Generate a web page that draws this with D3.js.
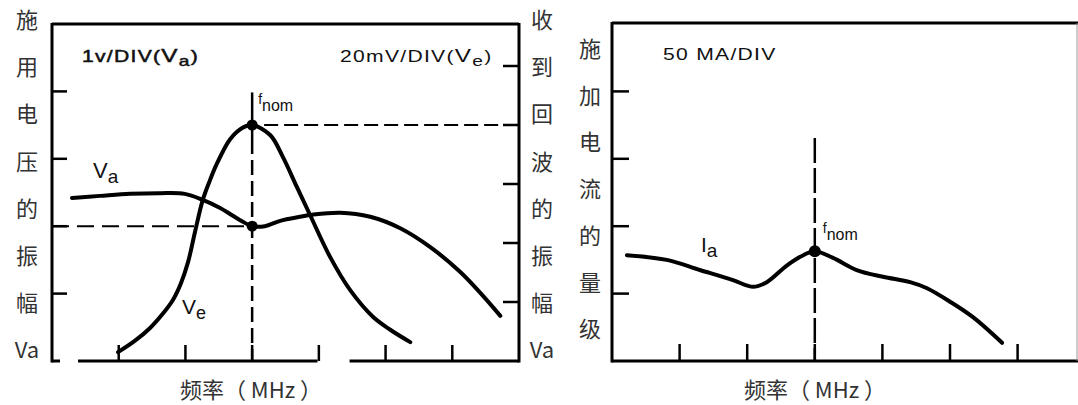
<!DOCTYPE html>
<html>
<head>
<meta charset="utf-8">
<script src="https://cdn.jsdelivr.net/npm/d3@7"></script>
<style>
  html, body { margin: 0; padding: 0; background: #fff; }
  svg { display: block; }
</style>
</head>
<body>
<svg id="chart" width="1078" height="405"></svg>
<script>
// ---- data (frequency in divisions, amplitude in divisions) ----
const freqTicks = [1, 2, 3, 4, 5, 6];
const fNom = 3;

const vaTicks = [1, 2, 3, 4];
const veTicks = [1, 2, 3, 4, 5];
const iaTicks = [1, 2, 3, 4];

const vaFreq = [0.30, 0.72, 1.17, 1.62, 1.99, 2.26, 2.52, 2.82, 3.00, 3.19, 3.42, 3.72, 3.90, 4.32, 4.77, 5.22, 5.67, 6.12, 6.42, 6.72];
const vaAmp  = [2.42, 2.45, 2.48, 2.49, 2.48, 2.39, 2.27, 2.09, 2.00, 2.00, 2.08, 2.14, 2.17, 2.20, 2.14, 1.97, 1.69, 1.32, 1.01, 0.67];

const veFreq = [0.99, 1.24, 1.47, 1.66, 1.81, 1.93, 2.04, 2.14, 2.26, 2.37, 2.47, 2.67, 2.85, 3.00, 3.27, 3.46, 3.67, 3.87, 4.17, 4.47, 4.81, 5.07, 5.37];
const veAmp  = [0.15, 0.34, 0.56, 0.80, 1.03, 1.31, 1.68, 2.17, 2.73, 3.07, 3.34, 3.76, 3.95, 4.00, 3.83, 3.46, 2.95, 2.47, 1.76, 1.20, 0.75, 0.53, 0.32];

const iaFreq = [0.22, 0.81, 1.30, 1.79, 2.09, 2.29, 2.59, 2.83, 3.00, 3.27, 3.62, 4.01, 4.41, 4.66, 5.00, 5.34, 5.77];
const iaAmp  = [1.57, 1.50, 1.35, 1.20, 1.10, 1.17, 1.42, 1.57, 1.63, 1.53, 1.35, 1.25, 1.17, 1.08, 0.88, 0.65, 0.27];

const vaAtNom = 2.0;   // applied voltage at f_nom
const vePeak  = 4.0;   // received echo peak at f_nom

// ---- text ----
const leftAxisChars  = ["施", "用", "电", "压", "的", "振", "幅", "Va"];
const rightAxisChars = ["收", "到", "回", "波", "的", "振", "幅", "Va"];
const currentAxisChars = ["施", "加", "电", "流", "的", "量", "级"];
const freqLabel = "频率（ MHz ）";

const svg = d3.select("#chart");
const CJK = "'Noto Sans CJK SC', 'Noto Sans', sans-serif";
const LAT = "'Liberation Sans', Arial, sans-serif";
const textColor = "#333";

// ---- panel geometry ----
const L = { left: 52, right: 519, top: 24, bottom: 361 };
const R = { left: 612, top: 23, bottom: 361 };

const xL = d3.scaleLinear().domain([0, 7]).range([L.left, L.right]);
const yVa = d3.scaleLinear().domain([0, 5]).range([L.bottom, L.top]);
const yVe = d3.scaleLinear().domain([0, 1]).range([L.bottom, L.bottom - 59]);

const xR = d3.scaleLinear().domain([0, 7]).range([R.left, R.left + 7 * 67.6]);
const yIa = d3.scaleLinear().domain([0, 5]).range([R.bottom, R.bottom - 5 * 67.4]);

const curve = d3.curveCatmullRom.alpha(0.5);

function drawCurve(g, xs, ys, xScale, yScale) {
  const pts = xs.map((x, i) => [x, ys[i]]);
  g.append("path")
    .datum(pts)
    .attr("fill", "none")
    .attr("stroke", "#000")
    .attr("stroke-width", 4)
    .attr("stroke-linecap", "round")
    .attr("stroke-linejoin", "round")
    .attr("d", d3.line().x(d => xScale(d[0])).y(d => yScale(d[1])).curve(curve));
}

function subLabel(g, x, y, main, sub, size, subSize) {
  const t = g.append("text")
    .attr("x", x).attr("y", y)
    .attr("font-family", LAT)
    .attr("font-size", size)
    .attr("fill", "#111");
  t.append("tspan").text(main);
  t.append("tspan").attr("dy", 5).attr("font-size", subSize).text(sub);
  return t;
}

// wide typewriter-style scale note: prefix, big V, subscript, closing paren
function scaleNote(g, x, y, prefix, sub, heavy) {
  const t = g.append("text")
    .attr("transform", `translate(${x},${y}) scale(1.28,1)`)
    .attr("font-family", LAT).attr("font-size", 16.5).attr("fill", "#111")
    .style("letter-spacing", "1px");
  if (heavy) t.attr("stroke", "#111").attr("stroke-width", 0.5);
  t.append("tspan").text(prefix);
  if (sub) {
    t.append("tspan").attr("font-size", 19).text("V");
    t.append("tspan").attr("dy", 4).attr("font-size", 15).text(sub);
    t.append("tspan").attr("dy", -4).text(")");
  }
  return t;
}

// ================= LEFT PANEL =================
const gL = svg.append("g");

// frame: top, left, right
gL.append("line").attr("x1", L.left).attr("x2", L.right).attr("y1", L.top).attr("y2", L.top)
  .attr("stroke", "#000").attr("stroke-width", 3);
gL.append("line").attr("x1", L.left).attr("x2", L.left).attr("y1", L.top - 1).attr("y2", L.bottom + 1.5)
  .attr("stroke", "#000").attr("stroke-width", 3);
gL.append("line").attr("x1", L.right).attr("x2", L.right).attr("y1", L.top - 1).attr("y2", L.bottom + 1.5)
  .attr("stroke", "#000").attr("stroke-width", 3);

// bottom axis (broken line, as printed)
[[0, 0.12], [0.39, 3.98], [4.46, 7]].forEach(([a, b]) => {
  gL.append("line").attr("x1", xL(a)).attr("x2", xL(b)).attr("y1", L.bottom).attr("y2", L.bottom)
    .attr("stroke", "#000").attr("stroke-width", 3);
});

// frequency ticks
gL.selectAll(".xt").data(freqTicks).join("line")
  .attr("x1", d => xL(d)).attr("x2", d => xL(d))
  .attr("y1", L.bottom).attr("y2", L.bottom - 16)
  .attr("stroke", "#000").attr("stroke-width", 2.5);

// left (Va) ticks
gL.selectAll(".yt").data(vaTicks).join("line")
  .attr("x1", L.left).attr("x2", L.left + 15)
  .attr("y1", d => yVa(d)).attr("y2", d => yVa(d))
  .attr("stroke", "#000").attr("stroke-width", 2.5);

// right (Ve) ticks
gL.selectAll(".vt").data(veTicks).join("line")
  .attr("x1", L.right).attr("x2", L.right - 16)
  .attr("y1", d => yVe(d)).attr("y2", d => yVe(d))
  .attr("stroke", "#000").attr("stroke-width", 2.5);

// dashed reference lines
gL.append("line")
  .attr("x1", L.left).attr("x2", xL(fNom))
  .attr("y1", yVa(vaAtNom)).attr("y2", yVa(vaAtNom))
  .attr("stroke", "#000").attr("stroke-width", 2).attr("stroke-dasharray", "17,8");
gL.append("line")
  .attr("x1", xL(fNom) + 12).attr("x2", L.right)
  .attr("y1", yVe(vePeak)).attr("y2", yVe(vePeak))
  .attr("stroke", "#000").attr("stroke-width", 2).attr("stroke-dasharray", "14,6");

// f_nom vertical marker
gL.append("line")
  .attr("x1", xL(fNom)).attr("x2", xL(fNom))
  .attr("y1", yVa(4) + 1).attr("y2", yVe(vePeak) + 14)
  .attr("stroke", "#000").attr("stroke-width", 2.5);
gL.append("line")
  .attr("x1", xL(fNom)).attr("x2", xL(fNom))
  .attr("y1", yVe(vePeak) + 14).attr("y2", L.bottom)
  .attr("stroke", "#000").attr("stroke-width", 2.5).attr("stroke-dasharray", "15,6");

// curves
drawCurve(gL, vaFreq, vaAmp, xL, yVa);
drawCurve(gL, veFreq, veAmp, xL, yVe);

// f_nom dots
gL.append("circle").attr("cx", xL(fNom)).attr("cy", yVe(vePeak)).attr("r", 5.5).attr("fill", "#000");
gL.append("circle").attr("cx", xL(fNom)).attr("cy", yVa(vaAtNom)).attr("r", 5.5).attr("fill", "#000");

// f_nom label
{
  const t = gL.append("text").attr("x", xL(fNom) + 6).attr("y", yVa(4) + 13)
    .attr("font-family", LAT).attr("font-size", 14).attr("fill", "#111");
  t.append("tspan").text("f");
  t.append("tspan").attr("dy", 7).attr("font-size", 16).text("nom");
}

// curve labels
subLabel(gL, 93, 178, "V", "a", 22, 19);
subLabel(gL, 182, 314, "V", "e", 21, 18);

// scale notes
scaleNote(gL, 82, 62, "1v/DIV(", "a", true);
scaleNote(gL, 340, 62, "20mV/DIV(", "e", false);

// vertical Chinese axis titles
const charStep = 47.2;
gL.selectAll(".lc").data(leftAxisChars).join("text")
  .attr("x", 27).attr("y", (d, i) => 18 + i * charStep)
  .attr("text-anchor", "middle").attr("dominant-baseline", "central")
  .attr("font-family", CJK).attr("font-size", 22).attr("fill", textColor)
  .text(d => d);
gL.selectAll(".rc").data(rightAxisChars).join("text")
  .attr("x", 542).attr("y", (d, i) => 18 + i * charStep)
  .attr("text-anchor", "middle").attr("dominant-baseline", "central")
  .attr("font-family", CJK).attr("font-size", 22).attr("fill", textColor)
  .text(d => d);

gL.append("text")
  .attr("x", 251).attr("y", 388)
  .attr("text-anchor", "middle").attr("dominant-baseline", "central")
  .attr("font-family", CJK).attr("font-size", 22).attr("fill", textColor)
  .text(freqLabel);

// ================= RIGHT PANEL =================
const gR = svg.append("g");
const rRight = 1077;

gR.append("line").attr("x1", R.left).attr("x2", 1078).attr("y1", R.top).attr("y2", R.top)
  .attr("stroke", "#000").attr("stroke-width", 3);
gR.append("line").attr("x1", R.left).attr("x2", R.left).attr("y1", R.top - 1).attr("y2", R.bottom + 1.5)
  .attr("stroke", "#000").attr("stroke-width", 3);
gR.append("line").attr("x1", R.left).attr("x2", 1078).attr("y1", R.bottom).attr("y2", R.bottom)
  .attr("stroke", "#000").attr("stroke-width", 3);
gR.append("line").attr("x1", rRight).attr("x2", rRight).attr("y1", R.top).attr("y2", R.bottom)
  .attr("stroke", "#999").attr("stroke-width", 1);

gR.selectAll(".xt").data(freqTicks).join("line")
  .attr("x1", d => xR(d)).attr("x2", d => xR(d))
  .attr("y1", R.bottom).attr("y2", R.bottom - 17)
  .attr("stroke", "#000").attr("stroke-width", 2.5);

gR.selectAll(".yt").data(iaTicks).join("line")
  .attr("x1", R.left).attr("x2", R.left + 17)
  .attr("y1", d => yIa(d)).attr("y2", d => yIa(d))
  .attr("stroke", "#000").attr("stroke-width", 2.5);

gR.append("line")
  .attr("x1", xR(fNom)).attr("x2", xR(fNom))
  .attr("y1", 138).attr("y2", R.bottom)
  .attr("stroke", "#000").attr("stroke-width", 2.5).attr("stroke-dasharray", "25,5");

drawCurve(gR, iaFreq, iaAmp, xR, yIa);

const iaNom = iaAmp[iaFreq.indexOf(fNom)];
gR.append("circle").attr("cx", xR(fNom)).attr("cy", yIa(iaNom)).attr("r", 6).attr("fill", "#000");

{
  const t = gR.append("text").attr("x", xR(fNom) + 8).attr("y", 233)
    .attr("font-family", LAT).attr("font-size", 14).attr("fill", "#111");
  t.append("tspan").text("f");
  t.append("tspan").attr("dy", 7).attr("font-size", 16).text("nom");
}

subLabel(gR, 701, 252, "I", "a", 21, 19);

scaleNote(gR, 663, 60, "50 MA/DIV", null, false);

gR.selectAll(".cc").data(currentAxisChars).join("text")
  .attr("x", 590).attr("y", (d, i) => 47 + i * 46.7)
  .attr("text-anchor", "middle").attr("dominant-baseline", "central")
  .attr("font-family", CJK).attr("font-size", 22).attr("fill", textColor)
  .text(d => d);

gR.append("text")
  .attr("x", 815).attr("y", 388)
  .attr("text-anchor", "middle").attr("dominant-baseline", "central")
  .attr("font-family", CJK).attr("font-size", 22).attr("fill", textColor)
  .text(freqLabel);
</script>
</body>
</html>
